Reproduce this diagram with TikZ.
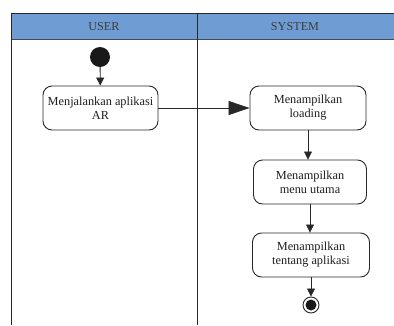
\documentclass[tikz,border=0pt]{standalone}
\usepackage{fontspec}
\setmainfont{Liberation Serif}
\usetikzlibrary{arrows.meta}
\definecolor{laneblue}{RGB}{112,156,212}
\definecolor{laneline}{RGB}{40,40,40}
\definecolor{headtext}{RGB}{60,60,60}
\definecolor{inktext}{RGB}{30,30,30}
\tikzset{
  activity/.style={draw=laneline, line width=0.9pt, rounded corners=9pt,
    fill=white, align=center, inner sep=0pt, text=inktext,
    font=\fontsize{12.3}{14}\selectfont},
  flow/.style={draw=laneline, line width=0.8pt,
    -{Triangle[length=8pt,width=8pt]}},
  bigflow/.style={draw=laneline, line width=0.8pt,
    -{Triangle[length=21pt,width=14pt]}},
  headlabel/.style={text=headtext, font=\fontsize{12.2}{14}\selectfont},
}
\begin{document}
\begin{tikzpicture}[x=1pt,y=-1pt]
\useasboundingbox (0,0) rectangle (394,325);
% swimlane header
\fill[laneblue] (11,13) rectangle (394,39);
\draw[laneline, line width=1pt] (11,13) -- (394,13);
\draw[laneline!70!laneblue, line width=0.8pt] (11,39) -- (394,39);
% lane borders
\draw[laneline, line width=0.8pt] (11,13) -- (11,325);
\draw[laneline, line width=0.8pt] (197,13) -- (197,325);
\node[headlabel] (huser) at (104,27) {USER};
\node[headlabel] (hsys) at (295,27) {SYSTEM};
% activities
\node[circle, fill=black!90, inner sep=0pt, minimum size=20pt] (start) at (100,57) {};
\node[activity, minimum width=115pt, minimum height=44pt] (b1) at (100.5,108)
  {Menjalankan aplikasi\\AR};
\node[activity, minimum width=116pt, minimum height=44pt] (b2) at (308,108)
  {Menampilkan\\loading};
\node[activity, minimum width=113pt, minimum height=44pt] (b3) at (310,182)
  {Menampilkan\\menu utama};
\node[activity, minimum width=117pt, minimum height=44pt] (b4) at (311,255)
  {Menampilkan\\tentang aplikasi};
\node[circle, draw=laneline, line width=0.9pt, fill=white, inner sep=0pt,
  minimum size=16pt] (endo) at (311,305) {};
\node[circle, fill=black!90, inner sep=0pt, minimum size=11pt] (endi) at (311,305) {};
% transitions
\draw[flow] (start) -- (b1);
\draw[bigflow] (b1) -- (b2);
\draw[flow] (b2.south) -- (b2.south |- b3.north);
\draw[flow] (b3.south) -- (b3.south |- b4.north);
\draw[flow] (b4.south) -- (endo);
\end{tikzpicture}
\end{document}
